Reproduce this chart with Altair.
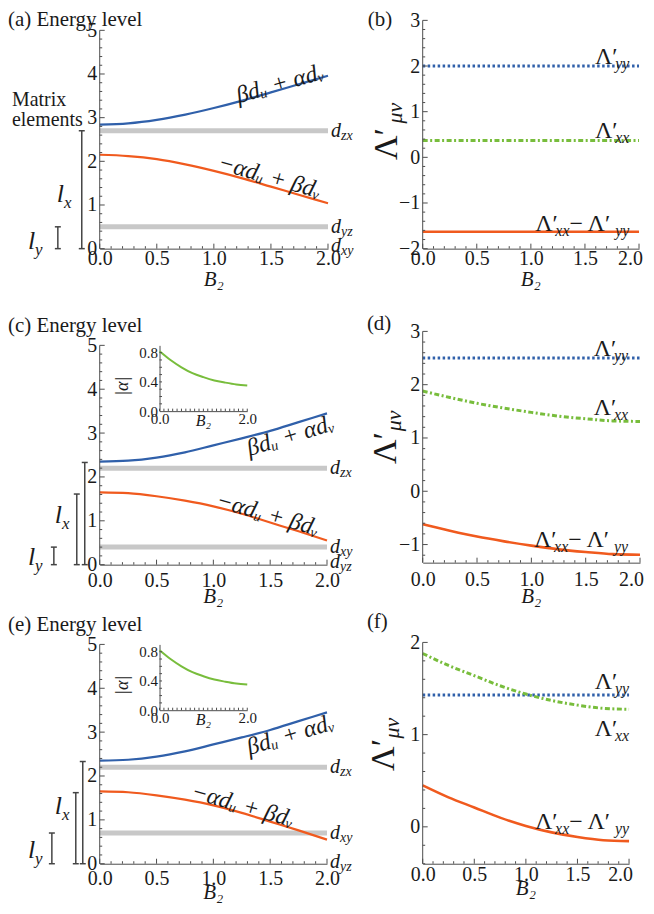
import math
import altair as alt
import pandas as pd

# ---------------- data ----------------
B = [0.0, 0.25, 0.5, 0.75, 1.0, 1.25, 1.5, 1.75, 2.0]

A_UPPER = [2.84, 2.87, 2.95, 3.07, 3.22, 3.39, 3.58, 3.77, 3.96]
A_LOWER = [2.15, 2.12, 2.05, 1.93, 1.78, 1.61, 1.42, 1.23, 1.04]
A_LEVELS = [2.7, 0.5]

C_UPPER = [2.35, 2.37, 2.44, 2.56, 2.72, 2.88, 3.05, 3.25, 3.45]
C_LOWER = [1.65, 1.63, 1.56, 1.46, 1.33, 1.16, 0.96, 0.76, 0.55]
C_LEVELS = [2.2, 0.4]

E_UPPER = [2.35, 2.37, 2.44, 2.56, 2.72, 2.88, 3.05, 3.25, 3.45]
E_LOWER = [1.65, 1.63, 1.56, 1.46, 1.33, 1.16, 0.96, 0.76, 0.55]
E_LEVELS = [2.2, 0.7]

ALPHA_ABS = [0.82, 0.70, 0.60, 0.52, 0.465, 0.42, 0.39, 0.365, 0.35]

B_YY = [2.0, 2.0, 2.0, 2.0, 2.0, 2.0, 2.0, 2.0, 2.0]
B_XX = [0.37, 0.37, 0.37, 0.37, 0.37, 0.37, 0.37, 0.37, 0.37]
B_DIFF = [-1.63, -1.63, -1.63, -1.63, -1.63, -1.63, -1.63, -1.63, -1.63]

D_YY = [2.5, 2.5, 2.5, 2.5, 2.5, 2.5, 2.5, 2.5, 2.5]
D_XX = [1.88, 1.76, 1.65, 1.56, 1.48, 1.41, 1.36, 1.32, 1.31]
D_DIFF = [-0.62, -0.74, -0.85, -0.94, -1.02, -1.09, -1.14, -1.18, -1.19]

F_YY = [1.43, 1.43, 1.43, 1.43, 1.43, 1.43, 1.43, 1.43, 1.43]
F_XX = [1.88, 1.75, 1.64, 1.53, 1.44, 1.37, 1.32, 1.285, 1.275]
F_DIFF = [0.45, 0.32, 0.21, 0.10, 0.01, -0.06, -0.11, -0.145, -0.155]

X_MAJOR = [0.0, 0.5, 1.0, 1.5, 2.0]
X_MINOR = [round(i * 0.1, 1) for i in range(21) if i % 5]

# ---------------- style ----------------
FONT = "Liberation Serif"
INK = "#1a1a1a"
AXC = "#4d4d4d"
BLUE = "#3060aa"
ORANGE = "#f05a1e"
GREEN = "#78bd3c"
GRAY = "#c8c8c8"
ONE = pd.DataFrame({"o": [0]})

EM = {"d": 0.5, "z": 0.389, "x": 0.444, "y": 0.444, "l": 0.278, "Λ": 0.722,
      "′": 0.12, "−": 0.564, " ": 0.25, "μ": 0.5, "ν": 0.45}


def tw(s, size):
    return sum(EM.get(ch, 0.5) for ch in s) * size


def sc(dom, rng=None):
    kw = dict(domain=dom, nice=False, zero=False)
    if rng is not None:
        kw["range"] = rng
    return alt.Scale(**kw)


def T(text, x, y, size=20, style="normal", angle=None, align="left",
      baseline="alphabetic", dx=0.0, dy=0.0):
    kw = dict(text=text, font=FONT, fontSize=size, fontStyle=style,
              align=align, baseline=baseline, color=INK)
    if dx:
        kw["dx"] = round(dx, 1)
    if dy:
        kw["dy"] = round(dy, 1)
    if angle is not None:
        kw["angle"] = angle
    return alt.Chart(ONE).mark_text(**kw).encode(x=x, y=y)


def rich(parts, x, y, size, sub, start=0.0, right=False, baseline="alphabetic", drop=5):
    ws = [tw(t, sub if k == "s" else size) for t, k in parts]
    off = start - (sum(ws) if right else 0.0)
    out = []
    for (t, k), w in zip(parts, ws):
        if k == "s":
            out.append(T(t, x, y, size=sub, style="italic", baseline=baseline, dx=off, dy=drop))
        else:
            out.append(T(t, x, y, size=size, style="italic" if k == "i" else "normal",
                         baseline=baseline, dx=off))
        off += w
    return out


def xaxis(pad, pull_last=0):
    kw = dict(values=X_MAJOR, format=".1f", labelFont=FONT, labelFontSize=20,
              labelColor=INK, labelPadding=pad, ticks=False, tickSize=0,
              domainColor=AXC, domainWidth=1, grid=False, title=None,
              labelFlush=False, labelOverlap=False)
    if pull_last:
        kw["labelOffset"] = {"condition": {"test": "datum.value >= 2", "value": -pull_last},
                             "value": 0}
    return alt.Axis(**kw)


def yaxis(vals, fmt="d"):
    return alt.Axis(values=vals, format=fmt, labelFont=FONT, labelFontSize=20,
                    labelColor=INK, labelPadding=3, ticks=False, tickSize=0,
                    domain=False, grid=False, title=None,
                    labelFlush=False, labelOverlap=False)


def xticks(Ht, XS, XA, vals, L):
    return alt.Chart(pd.DataFrame({"t": vals})).mark_rule(color=AXC, strokeWidth=1).encode(
        x=alt.X("t:Q", scale=XS, axis=XA), y=alt.value(Ht), y2=alt.value(Ht - L))


def yticks(YS, YA, vals, L, x0=0):
    return alt.Chart(pd.DataFrame({"t": vals})).mark_rule(color=AXC, strokeWidth=1).encode(
        y=alt.Y("t:Q", scale=YS, axis=YA), x=alt.value(x0), x2=alt.value(x0 + L))


def yminor(lo, hi, step=0.2):
    a = math.ceil(lo / step - 1e-9)
    b = math.floor(hi / step + 1e-9)
    return [round(i * step, 2) for i in range(a, b + 1) if i % 5]


def energy(W, H, ext, upper, lower, levels, dlabels, f1, f2, brackets, lxy, title,
           title_y, xpad, xt_dy, matrix=False, inset=False):
    Ht = H + ext
    XS = sc([0, 2])
    YS = sc([0, 5 + ext * 5.0 / H])
    XA = xaxis(xpad)
    YA = yaxis([0, 1, 2, 3, 4, 5])
    XD = lambda v: alt.XDatum(v, scale=XS, axis=XA)
    YD = lambda v: alt.YDatum(v, scale=YS, axis=YA)
    df = pd.DataFrame({"B": B, "up": upper, "lo": lower})
    L = [
        alt.Chart(pd.DataFrame({"lev": levels})).mark_rule(color=GRAY, strokeWidth=5).encode(
            y=alt.Y("lev:Q", scale=YS, axis=YA), x=XD(0), x2=alt.X2Datum(2)),
        alt.Chart(df).mark_line(color=BLUE, strokeWidth=2.2, interpolate="monotone").encode(
            x=alt.X("B:Q", scale=XS, axis=XA), y=alt.Y("up:Q", scale=YS, axis=YA)),
        alt.Chart(df).mark_line(color=ORANGE, strokeWidth=2.2, interpolate="monotone").encode(
            x=alt.X("B:Q", scale=XS, axis=XA), y=alt.Y("lo:Q", scale=YS, axis=YA)),
        alt.Chart(ONE).mark_rule(color=AXC, strokeWidth=1).encode(
            x=alt.value(0), y=YD(0), y2=alt.Y2Datum(5)),
        xticks(Ht, XS, XA, X_MAJOR, 5), xticks(Ht, XS, XA, X_MINOR, 2.5),
        yticks(YS, YA, [0, 1, 2, 3, 4, 5], 5), yticks(YS, YA, yminor(0, 5), 2.5),
    ]
    for sub, lev in dlabels:
        L += rich([("d", "i"), (sub, "s")], XD(2.0), YD(lev), 20, 14, start=3,
                  baseline="middle", drop=5)
    for text, bx, v, ang in (f1, f2):
        L.append(T(text, XD(bx), YD(v), size=24, style="italic", angle=ang,
                   align="center", baseline="middle"))
    for px, top in brackets:
        L.append(alt.Chart(ONE).mark_rule(color="#444", strokeWidth=1.5).encode(
            x=alt.value(px), y=YD(top), y2=alt.Y2Datum(0)))
        for v in (top, 0):
            L.append(alt.Chart(ONE).mark_rule(color="#444", strokeWidth=1.5).encode(
                x=alt.value(px - 3), x2=alt.value(px + 3), y=YD(v)))
    for sub, px, py in lxy:
        L += rich([("l", "i"), (sub, "s")], alt.value(px), alt.value(py + ext), 26, 17, drop=6)
    L.append(T(title, alt.value(-92), alt.value(title_y + ext), size=21))
    if matrix:
        L.append(T("Matrix", alt.value(-88), alt.value(76 + ext), size=20))
        L.append(T("elements", alt.value(-88), alt.value(96 + ext), size=20))
    L.append(T("B₂", XD(1.0), alt.value(Ht + xt_dy), size=21, style="italic", align="center"))
    main = alt.layer(*L)
    if not inset:
        return main.properties(width=W, height=Ht)

    IXS = sc([0, 2], [60, 148])
    IYS = sc([0, 0.9], [66 + ext, ext])
    IXA = alt.Axis(orient="bottom", offset=-(H - 66), values=[0, 2], format=".1f",
                   labelFont=FONT, labelFontSize=15, labelColor=INK, labelPadding=0,
                   ticks=False, tickSize=0, domainColor=AXC, grid=False, title=None,
                   labelFlush=False)
    IYA = alt.Axis(orient="left", offset=-60, values=[0, 0.4, 0.8], format=".1f",
                   labelFont=FONT, labelFontSize=15, labelColor=INK, labelPadding=2,
                   ticks=False, tickSize=0, domainColor=AXC, grid=False, title=None,
                   labelFlush=False)
    dfa = pd.DataFrame({"B": B, "a": ALPHA_ABS})
    I = [
        alt.Chart(dfa).mark_line(color=GREEN, strokeWidth=2, interpolate="monotone").encode(
            x=alt.X("B:Q", scale=IXS, axis=IXA), y=alt.Y("a:Q", scale=IYS, axis=IYA)),
        alt.Chart(pd.DataFrame({"t": X_MINOR + X_MAJOR})).mark_rule(color=AXC, strokeWidth=1).encode(
            x=alt.X("t:Q", scale=IXS, axis=IXA), y=alt.value(66 + ext), y2=alt.value(63.5 + ext)),
        alt.Chart(pd.DataFrame({"t": [0.1, 0.2, 0.3, 0.4, 0.5, 0.6, 0.7, 0.8]})).mark_rule(
            color=AXC, strokeWidth=1).encode(
            y=alt.Y("t:Q", scale=IYS, axis=IYA), x=alt.value(60), x2=alt.value(62.5)),
    ]
    I.append(T("|α|", alt.value(23), alt.value(41 + ext), size=18, style="italic", angle=270,
               align="center", baseline="middle"))
    I.append(T("B₂", alt.value(104), alt.value(81 + ext), size=16, style="italic", align="center"))
    return alt.layer(main, alt.layer(*I)).resolve_scale(
        x="independent", y="independent").properties(width=W, height=Ht)


def lam(W, H, ext, ydom, yvals, yy, xx, diff, lab_x, lab_yy, lab_xx, lab_diff, tag,
        tag_px, tag_py, lam_x, lam_v, mu_v, xpad, xt_dy):
    Ht = H + ext
    lo, hi = ydom
    XS = sc([0, 2])
    YS = sc([lo, hi + ext * (hi - lo) / H])
    XA = xaxis(xpad, pull_last=9)
    YA = yaxis(yvals)
    XD = lambda v: alt.XDatum(v, scale=XS, axis=XA)
    YD = lambda v: alt.YDatum(v, scale=YS, axis=YA)
    df = pd.DataFrame({"B": B, "yy": yy, "xx": xx, "df": diff})
    L = [
        alt.Chart(df).mark_line(color=ORANGE, strokeWidth=2.6, interpolate="monotone").encode(
            x=alt.X("B:Q", scale=XS, axis=XA), y=alt.Y("df:Q", scale=YS, axis=YA)),
        alt.Chart(df).mark_line(color=BLUE, strokeWidth=3, strokeDash=[2.5, 2.5]).encode(
            x=alt.X("B:Q", scale=XS, axis=XA), y=alt.Y("yy:Q", scale=YS, axis=YA)),
        alt.Chart(df).mark_line(color=GREEN, strokeWidth=3, strokeDash=[5, 2.5, 2, 2.5],
                                interpolate="monotone").encode(
            x=alt.X("B:Q", scale=XS, axis=XA), y=alt.Y("xx:Q", scale=YS, axis=YA)),
        alt.Chart(ONE).mark_rule(color=AXC, strokeWidth=1).encode(
            x=alt.value(0), y=YD(lo), y2=alt.Y2Datum(hi)),
        xticks(Ht, XS, XA, X_MAJOR, 5), xticks(Ht, XS, XA, X_MINOR, 2.5),
        yticks(YS, YA, yvals, 5), yticks(YS, YA, yminor(lo, hi), 2.5),
    ]
    L += rich([("Λ′", "u"), ("yy", "s")], XD(lab_x), YD(lab_yy), 24, 16, right=True, drop=5)
    L += rich([("Λ′", "u"), ("xx", "s")], XD(lab_x), YD(lab_xx), 24, 16, right=True, drop=5)
    L += rich([("Λ′", "u"), ("xx", "s"), (" − Λ′", "u"), ("yy", "s")], XD(lab_x),
              YD(lab_diff), 24, 16, right=True, drop=5)
    L.append(T(tag, alt.value(tag_px), alt.value(tag_py + ext), size=21))
    L.append(T("Λ′", alt.value(lam_x), YD(lam_v), size=34, angle=270, align="center"))
    L.append(T("μν", alt.value(lam_x + 5), YD(mu_v), size=22, style="italic", angle=270,
               align="center"))
    L.append(T("B₂", XD(1.0), alt.value(Ht + xt_dy), size=21, style="italic", align="center"))
    return alt.layer(*L).properties(width=W, height=Ht)


F_UP = "βdᵤ + αdᵥ"
F_LO = "−αdᵤ + βdᵥ"

pa = energy(229, 219, 10, A_UPPER, A_LOWER, A_LEVELS,
            [("zx", 2.7), ("yz", 0.5), ("xy", 0.05)],
            (F_UP, 1.58, 3.77, 344), (F_LO, 1.49, 1.64, 16),
            [(-18, 2.7), (-42, 0.5)], [("x", -43, 172), ("y", -72, 219)],
            "(a) Energy level", -4, 0, 37, matrix=True)
pc = energy(228, 220, 19, C_UPPER, C_LOWER, C_LEVELS,
            [("zx", 2.2), ("xy", 0.4), ("yz", 0.05)],
            (F_UP, 1.68, 2.93, 343), (F_LO, 1.48, 1.14, 16),
            [(-23, 1.61), (-15, 2.33), (-46, 0.4)], [("x", -45, 178), ("y", -72, 220)],
            "(c) Energy level", -13, 6, 38, inset=True)
pe = energy(228, 220, 2, E_UPPER, E_LOWER, E_LEVELS,
            [("zx", 2.2), ("xy", 0.7), ("yz", 0.05)],
            (F_UP, 1.68, 2.93, 343), (F_LO, 1.26, 1.32, 16),
            [(-24, 1.62), (-17, 2.33), (-48, 0.7)], [("x", -45, 170), ("y", -72, 214)],
            "(e) Energy level", -13, 5, 35, inset=True)

pb = lam(217, 229, 0, [-2, 3], [-2, -1, 0, 1, 2, 3], B_YY, B_XX, B_DIFF,
         1.91, 2.04, 0.42, -1.61, "(b)", -55, 6, -26, 0.29, 0.97, 0, 37)
pd_ = lam(218, 232, 5, [-1.34, 3], [-1, 0, 1, 2, 3], D_YY, D_XX, D_DIFF,
          1.89, 2.53, 1.43, -1.04, "(d)", -56, -1, -27, 0.81, 1.32, 7, 40)
pf = lam(207, 222, 0, [-0.4, 2], [0, 1, 2], F_YY, F_XX, F_DIFF,
         2.0, 1.49, 0.98, -0.02, "(f)", -56, -14, -29, 0.78, 1.07, 1, 31)

chart = alt.concat(pa, pb, pc, pd_, pe, pf, columns=2,
                   spacing={"row": 78, "column": 95},
                   bounds="flush", align="each").properties(
    padding=0).configure_view(stroke=None)

chart.save("out.html", embed_options={"renderer": "svg", "actions": False})
